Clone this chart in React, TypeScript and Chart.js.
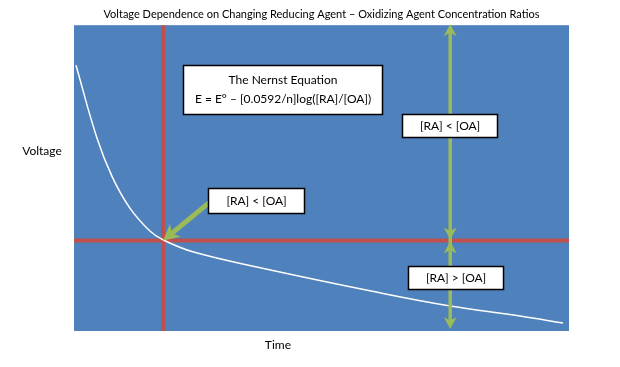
import React, { useEffect, useRef } from "react";
import { Chart, registerables } from "chart.js";

Chart.register(...registerables);

const titleText = "Voltage Dependence on Changing Reducing Agent \u2013 Oxidizing Agent Concentration Ratios";
const yAxisLabel = "Voltage";
const xAxisLabel = "Time";

// curve (time, voltage), axes 0..100
const timeValues = [0.4, 4.6, 7.7, 11.3, 15.4, 18.0, 24.0, 37.6, 61.8, 76.0, 90.1, 98.8];
const voltageValues = [86.9, 63.3, 50.5, 40.2, 32.6, 29.8, 25.9, 20.7, 12.5, 8.2, 4.9, 2.6];

const crossTime = 18.0;
const crossVoltage = 29.6;
const arrowTime = 76.0;

const nernstLines = ["The Nernst Equation", "E = E\u00b0 \u2013 [0.0592/n]log([RA]/[OA])"];
const labelLess = "[RA] < [OA]";
const labelGreater = "[RA] > [OA]";

const FONT = "Lato, 'Open Sans', sans-serif";
const BLUE = "#4F81BD";
const RED = "#C0504D";
const GREEN = "#9BBB59";

function arrowHead(ctx: CanvasRenderingContext2D, tx: number, ty: number, fx: number, fy: number, len: number, half: number) {
  const ang = Math.atan2(ty - fy, tx - fx);
  ctx.beginPath();
  ctx.moveTo(tx, ty);
  ctx.lineTo(tx - len * Math.cos(ang) + half * Math.sin(ang), ty - len * Math.sin(ang) - half * Math.cos(ang));
  ctx.lineTo(tx - len * 0.7 * Math.cos(ang), ty - len * 0.7 * Math.sin(ang));
  ctx.lineTo(tx - len * Math.cos(ang) - half * Math.sin(ang), ty - len * Math.sin(ang) + half * Math.cos(ang));
  ctx.closePath();
  ctx.fill();
}

const bgPlugin = {
  id: "bg",
  beforeDatasetsDraw(chart: any) {
    const { ctx, chartArea: a, scales } = chart;
    ctx.save();
    ctx.fillStyle = BLUE;
    ctx.fillRect(a.left, a.top, a.right - a.left, a.bottom - a.top);
    const cx = scales.x.getPixelForValue(crossTime);
    const cy = scales.y.getPixelForValue(crossVoltage);
    ctx.strokeStyle = RED;
    ctx.lineWidth = 4;
    ctx.beginPath();
    ctx.moveTo(cx, a.top);
    ctx.lineTo(cx, a.bottom);
    ctx.moveTo(a.left, cy);
    ctx.lineTo(a.right, cy);
    ctx.stroke();
    ctx.restore();
  },
  afterDatasetsDraw(chart: any) {
    const { ctx, chartArea: a, scales } = chart;
    const X = (v: number) => scales.x.getPixelForValue(v);
    const Y = (v: number) => scales.y.getPixelForValue(v);
    ctx.save();
    // vertical green double arrows
    const gx = X(arrowTime);
    const cy = Y(crossVoltage);
    const top = a.top - 1;
    const bot = a.bottom - 2;
    ctx.strokeStyle = GREEN;
    ctx.fillStyle = GREEN;
    ctx.lineWidth = 3.5;
    ctx.beginPath();
    ctx.moveTo(gx, top + 8);
    ctx.lineTo(gx, bot - 8);
    ctx.stroke();
    arrowHead(ctx, gx, top, gx, top + 20, 12, 6.5);
    arrowHead(ctx, gx, cy - 1, gx, cy - 20, 12, 6.5);
    arrowHead(ctx, gx, cy + 1, gx, cy + 20, 12, 6.5);
    arrowHead(ctx, gx, bot, gx, bot - 20, 12, 6.5);

    // diagonal arrow
    const sx = X(27.3), sy = Y(42.0);
    const tx = X(crossTime), ty = Y(crossVoltage);
    ctx.lineWidth = 5;
    ctx.beginPath();
    ctx.moveTo(sx, sy);
    const ang = Math.atan2(ty - sy, tx - sx);
    ctx.lineTo(tx - 10 * Math.cos(ang), ty - 10 * Math.sin(ang));
    ctx.stroke();
    arrowHead(ctx, tx, ty, sx, sy, 16, 8.5);

    // boxes
    const box = (x1: number, y1: number, x2: number, y2: number, lines: string[]) => {
      const l = Math.round(X(x1)) + 0.5, r = Math.round(X(x2)) + 0.5;
      const t = Math.round(Y(y1)) + 0.5, b = Math.round(Y(y2)) + 0.5;
      ctx.fillStyle = "#FFFFFF";
      ctx.fillRect(l, t, r - l, b - t);
      ctx.strokeStyle = "#000000";
      ctx.lineWidth = 1.5;
      ctx.strokeRect(l, t, r - l, b - t);
      ctx.fillStyle = "#000000";
      ctx.font = "12px " + FONT;
      ctx.textAlign = "center";
      ctx.textBaseline = "middle";
      const mx = (l + r) / 2;
      const my = (t + b) / 2;
      const lh = 19;
      lines.forEach((s, i) => {
        ctx.fillText(s, mx, my + (i - (lines.length - 1) / 2) * lh);
      });
    };
    box(22.0, 86.9, 62.2, 71.1, nernstLines);
    box(66.3, 71.1, 85.5, 63.6, [labelLess]);
    box(27.1, 46.6, 46.5, 38.7, [labelLess]);
    box(67.5, 21.3, 86.7, 13.8, [labelGreater]);

    // axis labels
    ctx.fillStyle = "#000000";
    ctx.font = "12px " + FONT;
    ctx.textAlign = "center";
    ctx.textBaseline = "middle";
    ctx.fillText(yAxisLabel, 42, Y(58.7));
    ctx.fillText(xAxisLabel, X(41.2), a.bottom + 14);
    ctx.restore();
  },
};

export default function App() {
  const ref = useRef<HTMLCanvasElement>(null);
  useEffect(() => {
    document.body.style.margin = "0";
    const chart = new Chart(ref.current!, {
      type: "line",
      data: {
        datasets: [
          {
            data: timeValues.map((t, i) => ({ x: t, y: voltageValues[i] })),
            borderColor: "#FFFFFF",
            borderWidth: 1.5,
            pointRadius: 0,
            tension: 0.4,
          },
        ],
      },
      options: {
        animation: false,
        responsive: false,
        layout: { padding: { left: 74, right: 51, top: 0, bottom: 36 } },
        scales: {
          x: { type: "linear", min: 0, max: 100, display: false },
          y: { min: 0, max: 100, display: false },
        },
        plugins: {
          legend: { display: false },
          tooltip: { enabled: false },
          title: {
            display: true,
            text: titleText,
            color: "#000000",
            font: { family: FONT, size: 11, weight: "normal" },
            padding: { top: 8, bottom: 4 },
          },
        },
      },
      plugins: [bgPlugin],
    });
    return () => chart.destroy();
  }, []);
  return <canvas ref={ref} width={620} height={367} style={{ display: "block" }} />;
}
